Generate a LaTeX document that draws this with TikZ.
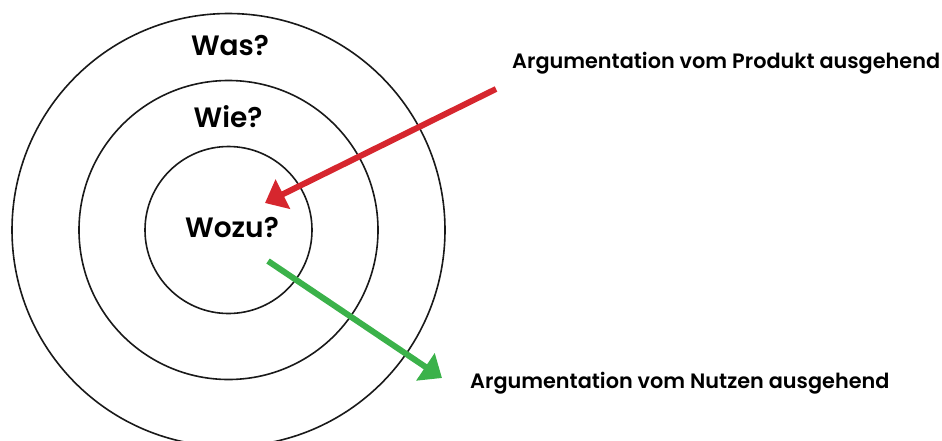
\documentclass[tikz,border=0pt]{standalone}
\usepackage{fontspec}
\setmainfont{Poppins}
\newfontfamily\popmed{Poppins SemiBold}
\usetikzlibrary{arrows.meta}
\definecolor{argred}{HTML}{D6262E}
\definecolor{arggreen}{HTML}{3BB24A}
\tikzset{
  ring/.style={circle, draw=black!90, line width=1.6pt, inner sep=0pt},
  ringlabel/.style={anchor=base, inner sep=0pt, font=\popmed\fontsize{28}{30}\selectfont},
  sidelabel/.style={anchor=base west, inner sep=0pt, font=\popmed\fontsize{20.8}{24}\selectfont},
  bigarrow/.style={line width=6pt, -{Triangle[length=20pt,width=32pt]}}
}
\begin{document}
\begin{tikzpicture}[x=1pt,y=-1pt]
\useasboundingbox (0,0) rectangle (942,440);
\node[ring, minimum size=433pt] (outer) at (228.5,230) {};
\node[ring, minimum size=299pt] (middle) at (228.5,230) {};
\node[ring, minimum size=167pt] (inner) at (228.5,230) {};
\node[ringlabel] (was) at (230,55) {Was?};
\node[ringlabel] (wie) at (228,127) {Wie?};
\node[ringlabel] (wozu) at (232,237) {Wozu?};
\node[sidelabel] (prod) at (512,68) {Argumentation vom Produkt ausgehend};
\node[sidelabel] (nutz) at (470,388) {Argumentation vom Nutzen ausgehend};
\coordinate (redstart) at (496,89);
\coordinate (redtip) at (265,203);
\coordinate (greenstart) at (268,261);
\coordinate (greentip) at (442,378);
\draw[bigarrow, argred] (redstart) -- (redtip);
\draw[bigarrow, arggreen] (greenstart) -- (greentip);
\end{tikzpicture}
\end{document}
